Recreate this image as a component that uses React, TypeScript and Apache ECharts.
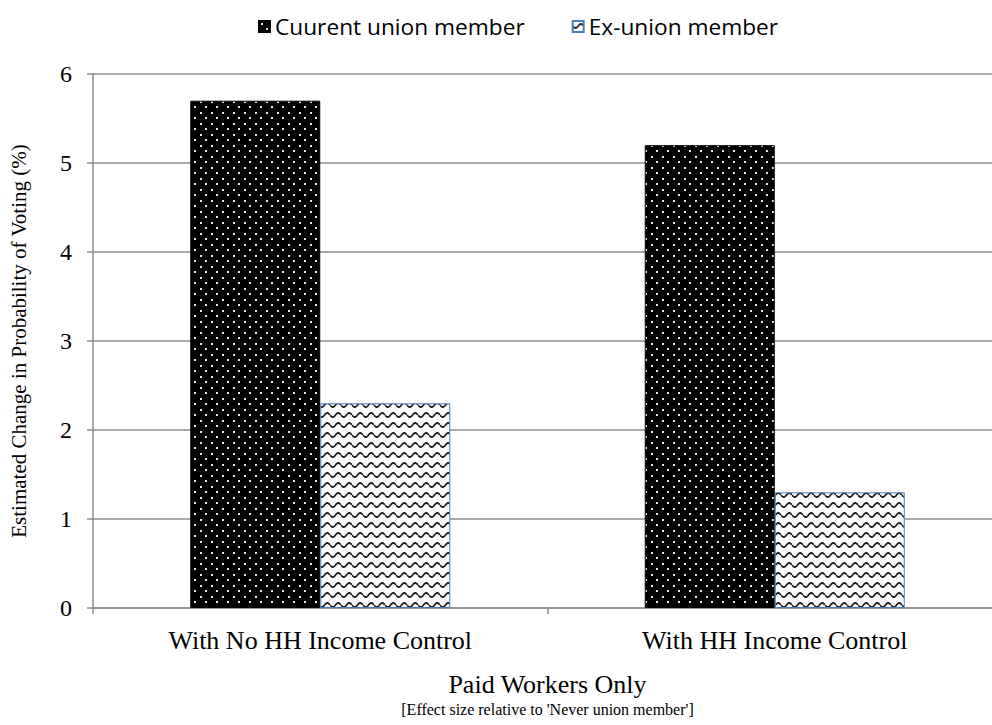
import React, { useEffect, useRef } from "react";
import * as echarts from "echarts";

const categories = ["With No HH Income Control", "With HH Income Control"];
const currentUnion = [5.7, 5.2];
const exUnion = [2.3, 1.3];
const seriesNames = ["Cuurent union member", "Ex-union member"];
const yTicks = { min: 0, max: 6, interval: 1 };

function dotPattern(): HTMLCanvasElement {
  const c = document.createElement("canvas");
  c.width = 11;
  c.height = 11;
  const g = c.getContext("2d")!;
  g.fillStyle = "#000";
  g.fillRect(0, 0, 11, 11);
  g.fillStyle = "#e8e8e8";
  g.fillRect(2, 2, 2, 2);
  g.fillRect(7, 7, 2, 2);
  return c;
}

function wavePattern(): HTMLCanvasElement {
  const c = document.createElement("canvas");
  c.width = 11;
  c.height = 10;
  const g = c.getContext("2d")!;
  g.fillStyle = "#fff";
  g.fillRect(0, 0, 11, 10);
  g.strokeStyle = "#222";
  g.lineWidth = 1.8;
  g.beginPath();
  for (let x = 0; x <= 11; x += 0.5) {
    const y = 5 + 2 * Math.sin((x / 11) * Math.PI * 2);
    if (x === 0) g.moveTo(x, y);
    else g.lineTo(x, y);
  }
  g.stroke();
  return c;
}

export default function App() {
  const ref = useRef<HTMLDivElement>(null);
  useEffect(() => {
    const chart = echarts.init(ref.current!, null, { renderer: "svg" });
    const dots = dotPattern();
    const waves = wavePattern();
    chart.setOption({
      animation: false,
      backgroundColor: "#fff",
      legend: {
        left: 253,
        top: 10,
        itemWidth: 11,
        itemHeight: 11,
        itemGap: 47,
        icon: "rect",
        textStyle: { fontFamily: "Open Sans", fontSize: 22.7, color: "#000" },
        data: seriesNames,
      },
      grid: { left: 90, right: 0, top: 74, bottom: 117, containLabel: false },
      xAxis: {
        type: "category",
        data: categories,
        axisLine: { lineStyle: { color: "#8c8c8c", width: 1.5 } },
        axisTick: { show: true, length: 6, lineStyle: { color: "#8c8c8c", width: 1.5 } },
        axisLabel: {
          margin: 19,
          fontFamily: "Liberation Serif",
          fontSize: 26,
          color: "#000",
        },
        name: "{a|Paid Workers Only}\n{b|[Effect size relative to 'Never union member']}",
        nameLocation: "middle",
        nameGap: 62,
        nameTextStyle: {
          rich: {
            a: { fontFamily: "Liberation Serif", fontSize: 26, color: "#000", lineHeight: 28 },
            b: { fontFamily: "Liberation Serif", fontSize: 16, color: "#000", lineHeight: 22 },
          },
        },
      },
      yAxis: {
        type: "value",
        min: yTicks.min,
        max: yTicks.max,
        interval: yTicks.interval,
        axisLine: { show: true, lineStyle: { color: "#8c8c8c", width: 1.5 } },
        axisTick: { show: true, length: 6, lineStyle: { color: "#8c8c8c", width: 1.5 } },
        splitLine: { lineStyle: { color: "#8c8c8c", width: 1.5 } },
        axisLabel: {
          margin: 21,
          fontFamily: "Liberation Serif",
          fontSize: 24,
          color: "#000",
        },
        name: "Estimated Change in Probability of Voting (%)",
        nameLocation: "middle",
        nameGap: 64,
        nameTextStyle: { fontFamily: "Liberation Serif", fontSize: 21, color: "#000" },
      },
      series: [
        {
          name: seriesNames[0],
          type: "bar",
          data: currentUnion,
          barWidth: 130,
          barGap: "0%",
          itemStyle: {
            color: { image: dots, repeat: "repeat", imageWidth: 11, imageHeight: 11 },
            borderColor: "#000",
            borderWidth: 1,
          },
        },
        {
          name: seriesNames[1],
          type: "bar",
          data: exUnion,
          barWidth: 130,
          barGap: "0%",
          itemStyle: {
            color: { image: waves, repeat: "repeat", imageWidth: 11, imageHeight: 10 },
            borderColor: "#4a7ebb",
            borderWidth: 1,
          },
        },
      ],
    });
    return () => chart.dispose();
  }, []);
  return (
    <div style={{ position: "fixed", left: 0, top: 0, width: 992, height: 725, overflow: "hidden" }}>
      <div ref={ref} style={{ width: 1002, height: 725 }} />
    </div>
  );
}
